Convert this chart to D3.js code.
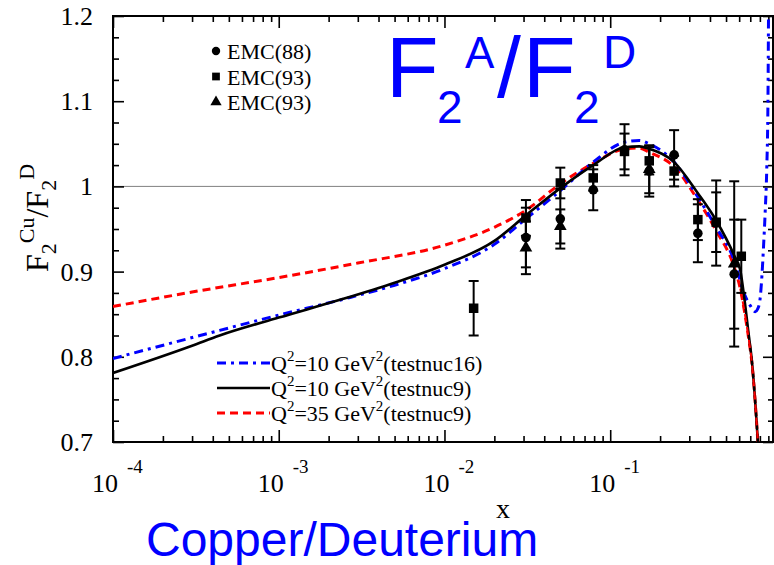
<!DOCTYPE html>
<html>
<head>
<meta charset="utf-8">
<script src="https://cdn.jsdelivr.net/npm/d3@7"></script>
<style>
  body { margin: 0; background: #fff; }
  text { fill: #000; }
</style>
</head>
<body>
<svg id="chart" width="774" height="565"></svg>
<script>
// ---- EMC measurements of F2(Cu)/F2(D) ----
const emc88X   = [0.031, 0.05, 0.079, 0.122, 0.172, 0.243, 0.338, 0.436, 0.56];
const emc88Y   = [0.940, 0.962, 0.996, 1.043, 1.018, 1.037, 0.945, 0.957, 0.897];
const emc88Err = [0.035, 0.035, 0.024, 0.030, 0.030, 0.029, 0.034, 0.050, 0.064];

const emc93aX   = [0.015, 0.031, 0.05, 0.079, 0.122, 0.172, 0.243, 0.338, 0.436, 0.618];
const emc93aY   = [0.857, 0.963, 1.004, 1.010, 1.041, 1.030, 1.018, 0.961, 0.958, 0.918];
const emc93aErr = [0.032, 0.021, 0.018, 0.015, 0.021, 0.016, 0.018, 0.024, 0.035, 0.043];

const emc93bX   = [0.031, 0.05, 0.172, 0.56];
const emc93bY   = [0.928, 0.953, 1.020, 0.909];
const emc93bErr = [0.031, 0.020, 0.028, 0.097];

// ---- model curves ----
const nuc16Q10X = [1e-4, 4.4e-4, 1e-3, 2.5e-3, 5e-3, 1e-2, 0.02, 0.031, 0.05, 0.079, 0.122, 0.15, 0.172, 0.243, 0.338, 0.436, 0.56, 0.65, 0.70, 0.75, 0.775, 0.80, 0.823, 0.842, 0.862, 0.88, 0.895, 0.902, 0.906];
const nuc16Q10Y = [0.798, 0.831, 0.849, 0.868, 0.884, 0.9035, 0.932, 0.962, 0.995, 1.0285, 1.052, 1.054, 1.050, 1.0285, 0.9875, 0.952, 0.913, 0.872, 0.860, 0.853, 0.856, 0.866, 0.895, 0.930, 0.972, 1.02, 1.10, 1.20, 1.26];

const nuc9Q10X = [1e-4, 3e-4, 4.4e-4, 1e-3, 2.45e-3, 5e-3, 1e-2, 0.02, 0.031, 0.05, 0.079, 0.122, 0.15, 0.172, 0.243, 0.338, 0.436, 0.56, 0.609, 0.653, 0.683, 0.716, 0.778, 0.80];
const nuc9Q10Y = [0.781, 0.813, 0.825, 0.846, 0.868, 0.887, 0.908, 0.936, 0.966, 0.998, 1.025, 1.046, 1.047, 1.044, 1.0285, 0.992, 0.960, 0.919, 0.902, 0.860, 0.828, 0.795, 0.700, 0.660];

const nuc9Q35X = [1e-4, 3e-4, 1e-3, 3e-3, 1e-2, 0.02, 0.031, 0.05, 0.079, 0.122, 0.15, 0.172, 0.243, 0.338, 0.436, 0.56, 0.609, 0.65, 0.683, 0.716, 0.778, 0.80];
const nuc9Q35Y = [0.859, 0.876, 0.893, 0.910, 0.931, 0.952, 0.972, 1.003, 1.027, 1.044, 1.045, 1.040, 1.023, 0.984, 0.948, 0.905, 0.880, 0.850, 0.823, 0.793, 0.700, 0.660];

// ---- axes ----
const xDomain = [1e-4, 0.96];
const yDomain = [0.7, 1.2];
const xTickExponents = ["-4", "-3", "-2", "-1"];
const yTickValues = [0.7, 0.8, 0.9, 1, 1.1, 1.2];
const yTickLabels = ["0.7", "0.8", "0.9", "1", "1.1", "1.2"];

// ---- legend texts ----
const markerLegend = ["EMC(88)", "EMC(93)", "EMC(93)"];
const curveLegendQ2 = ["10", "10", "35"];
const curveLegendSet = ["(testnuc16)", "(testnuc9)", "(testnuc9)"];

const svg = d3.select("#chart");
const P = { left: 113, right: 773, top: 16, bottom: 442 };
const serif = "'Liberation Serif', 'Times New Roman', serif";
const sans = "'Liberation Sans', Arial, Helvetica, sans-serif";

const x = d3.scaleLog().domain(xDomain).range([P.left, P.right]);
const y = d3.scaleLinear().domain(yDomain).range([P.bottom, P.top]);

svg.append("rect").attr("width", 774).attr("height", 565).attr("fill", "#fff");

svg.append("defs").append("clipPath").attr("id", "plotClip")
  .append("rect").attr("x", P.left).attr("y", P.top)
  .attr("width", P.right - P.left).attr("height", P.bottom - P.top);

// reference line at ratio 1
svg.append("line")
  .attr("x1", P.left).attr("x2", P.right)
  .attr("y1", y(1)).attr("y2", y(1))
  .attr("stroke", "#808080").attr("stroke-width", 1);

// ---- ticks (inward) ----
const allX = x.ticks().filter(v => v <= xDomain[1]);
const majorX = xTickExponents.map(e => Math.pow(10, +e));
const minorX = allX.filter(v => !majorX.some(m => Math.abs(m - v) / m < 1e-6));
const yMinor = d3.range(0, 21).map(i => 0.7 + i * 0.025).filter(v => !yTickValues.some(t => Math.abs(t - v) < 1e-6));

function styleAxis(g) {
  g.select(".domain").remove();
  g.selectAll(".tick line").attr("stroke", "#000").attr("stroke-width", 1.6);
  g.selectAll(".tick text").remove();
}
const axes = [
  [d3.axisBottom(x).tickValues(majorX).tickSize(-12), `translate(0,${P.bottom})`],
  [d3.axisBottom(x).tickValues(minorX).tickSize(-6), `translate(0,${P.bottom})`],
  [d3.axisTop(x).tickValues(majorX).tickSize(-12), `translate(0,${P.top})`],
  [d3.axisTop(x).tickValues(minorX).tickSize(-6), `translate(0,${P.top})`],
  [d3.axisLeft(y).tickValues(yTickValues).tickSize(-11), `translate(${P.left},0)`],
  [d3.axisLeft(y).tickValues(yMinor).tickSize(-6), `translate(${P.left},0)`],
  [d3.axisRight(y).tickValues(yTickValues).tickSize(-10), `translate(${P.right},0)`],
  [d3.axisRight(y).tickValues(yMinor).tickSize(-5), `translate(${P.right},0)`]
];
axes.forEach(([ax, tr]) => svg.append("g").attr("transform", tr).call(ax).call(styleAxis));

// frame
svg.append("rect")
  .attr("x", P.left).attr("y", P.top)
  .attr("width", P.right - P.left).attr("height", P.bottom - P.top)
  .attr("fill", "none").attr("stroke", "#000").attr("stroke-width", 2);

// x tick labels 10^n
xTickExponents.forEach(e => {
  const px = x(Math.pow(10, +e));
  const t = svg.append("text").attr("x", px - 21).attr("y", 492)
    .attr("font-family", serif).attr("font-size", 26);
  t.append("tspan").text("10");
  t.append("tspan").attr("dx", 9).attr("dy", -19).attr("font-size", 19).text(e);
});

// y tick labels
yTickValues.forEach((v, i) => {
  svg.append("text").attr("x", 93).attr("y", y(v) + 9)
    .attr("text-anchor", "end").attr("font-family", serif).attr("font-size", 26)
    .text(yTickLabels[i]);
});

// ---- curves ----
const line = d3.line().x(d => x(d[0])).y(d => y(d[1])).curve(d3.curveMonotoneX);
const curves = svg.append("g").attr("clip-path", "url(#plotClip)");
const curveSpecs = [
  { xs: nuc9Q35X, ys: nuc9Q35Y, color: "#ff0000", width: 3, dash: "8,5" },
  { xs: nuc16Q10X, ys: nuc16Q10Y, color: "#0000ff", width: 3, dash: "9,5,3,5" },
  { xs: nuc9Q10X, ys: nuc9Q10Y, color: "#000000", width: 2.6, dash: null }
];
curveSpecs.forEach(c => {
  curves.append("path")
    .datum(c.xs.map((v, i) => [v, c.ys[i]]))
    .attr("d", line)
    .attr("fill", "none")
    .attr("stroke", c.color)
    .attr("stroke-width", c.width)
    .attr("stroke-dasharray", c.dash);
});
// red dashes over the black line near the steep end
curves.append("path")
  .datum(nuc9Q35X.map((v, i) => [v, nuc9Q35Y[i]]).filter(d => d[0] >= 0.609))
  .attr("d", line).attr("fill", "none")
  .attr("stroke", "#ff0000").attr("stroke-width", 2).attr("stroke-dasharray", "8,5");

// ---- data points ----
const dataG = svg.append("g");
function errorBars(xs, ys, es) {
  xs.forEach((v, i) => {
    const px = x(v), y1 = y(ys[i] - es[i]), y2 = y(ys[i] + es[i]);
    dataG.append("line").attr("x1", px).attr("x2", px).attr("y1", y1).attr("y2", y2)
      .attr("stroke", "#000").attr("stroke-width", 2);
    [y1, y2].forEach(yy => dataG.append("line")
      .attr("x1", px - 5).attr("x2", px + 5).attr("y1", yy).attr("y2", yy)
      .attr("stroke", "#000").attr("stroke-width", 2));
  });
}
const sym = {
  circle: d3.symbol().type(d3.symbolCircle).size(72),
  square: d3.symbol().type(d3.symbolSquare).size(90),
  triangle: d3.symbol().type(d3.symbolTriangle).size(70)
};
function markers(xs, ys, s) {
  xs.forEach((v, i) => dataG.append("path")
    .attr("transform", `translate(${x(v)},${y(ys[i])})`)
    .attr("d", sym[s]()).attr("fill", "#000"));
}
errorBars(emc88X, emc88Y, emc88Err);
errorBars(emc93aX, emc93aY, emc93aErr);
errorBars(emc93bX, emc93bY, emc93bErr);
markers(emc88X, emc88Y, "circle");
markers(emc93bX, emc93bY, "triangle");
markers(emc93aX, emc93aY, "square");

// ---- marker legend ----
const mk = ["circle", "square", "triangle"];
const mkSize = [55, 60, 55];
markerLegend.forEach((label, i) => {
  const cy = 51 + i * 25.5;
  svg.append("path").attr("transform", `translate(216,${cy})`)
    .attr("d", d3.symbol().type(mk[i] === "circle" ? d3.symbolCircle : mk[i] === "square" ? d3.symbolSquare : d3.symbolTriangle).size(mkSize[i])())
    .attr("fill", "#000");
  svg.append("text").attr("x", 227).attr("y", cy + 8)
    .attr("font-family", serif).attr("font-size", 22).text(label);
});

// ---- curve legend ----
const legendStyles = [curveSpecs[1], curveSpecs[2], curveSpecs[0]];
curveLegendQ2.forEach((q, i) => {
  const cy = 363 + i * 25;
  const st = legendStyles[i];
  svg.append("line").attr("x1", 217).attr("x2", 270).attr("y1", cy).attr("y2", cy)
    .attr("stroke", st.color).attr("stroke-width", st.width).attr("stroke-dasharray", st.dash);
  const t = svg.append("text").attr("x", 271).attr("y", cy + 8)
    .attr("font-family", serif).attr("font-size", 22);
  t.append("tspan").text("Q");
  t.append("tspan").attr("dy", -10).attr("font-size", 15).text("2");
  t.append("tspan").attr("dy", 10).text(`=${q} GeV`);
  t.append("tspan").attr("dy", -10).attr("font-size", 15).text("2");
  t.append("tspan").attr("dy", 10).text(curveLegendSet[i]);
});

// ---- title F2^A/F2^D ----
const blue = "#0000ff";
const titleParts = [
  { s: "F", x: 386, y: 97, size: 86 },
  { s: "2", x: 437, y: 123, size: 46 },
  { s: "A", x: 465, y: 68, size: 44 },
  { s: "/", x: 497, y: 97, size: 86 },
  { s: "F", x: 523, y: 97, size: 86 },
  { s: "2", x: 574, y: 123, size: 46 },
  { s: "D", x: 603, y: 68, size: 46 }
];
titleParts.forEach(p => svg.append("text").attr("x", p.x).attr("y", p.y)
  .attr("font-family", sans).attr("font-size", p.size).style("fill", blue).text(p.s));

// ---- axis titles ----
const yl = svg.append("text").attr("transform", "translate(48,272) rotate(-90)")
  .attr("font-family", serif).attr("font-size", 32);
yl.append("tspan").text("F");
yl.append("tspan").attr("dy", 8).attr("font-size", 22).text("2");
yl.append("tspan").attr("dy", -22).attr("font-size", 22).text("Cu");
yl.append("tspan").attr("dy", 14).text("/F");
yl.append("tspan").attr("dy", 8).attr("font-size", 22).text("2");
yl.append("tspan").attr("dy", -22).attr("font-size", 22).text("D");

svg.append("text").attr("x", 503).attr("y", 518).attr("text-anchor", "middle")
  .attr("font-family", serif).attr("font-size", 28).text("x");

svg.append("text").attr("x", 146).attr("y", 556)
  .attr("font-family", sans).attr("font-size", 48).style("fill", blue)
  .text("Copper/Deuterium");
</script>
</body>
</html>
